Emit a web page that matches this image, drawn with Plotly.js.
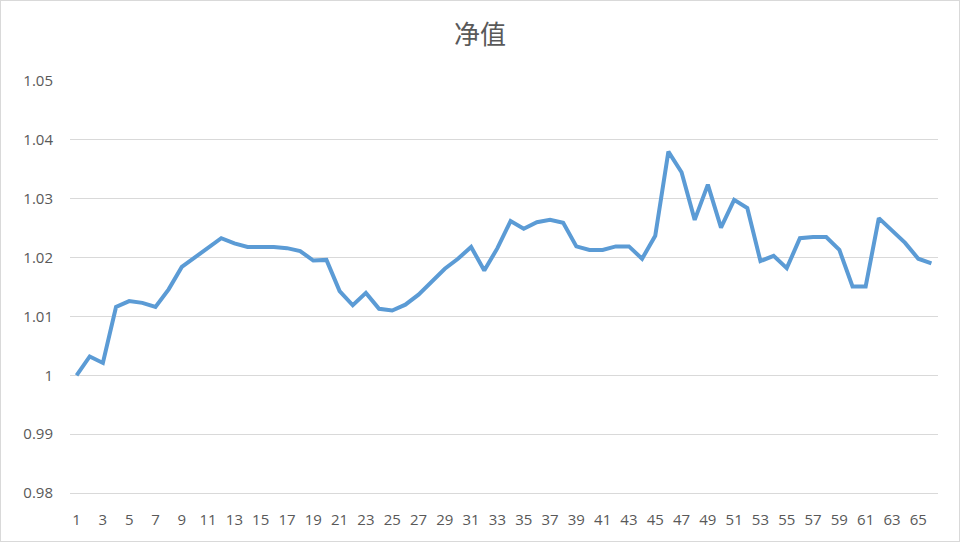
<!DOCTYPE html>
<html>
<head>
<meta charset="utf-8">
<script src="https://cdn.plot.ly/plotly-3.0.1.min.js"></script>
<style>
html,body{margin:0;padding:0;background:#fff;}
#wrap{position:relative;width:960px;height:542px;}
#chart{position:absolute;left:0;top:0;width:960px;height:542px;}
#frame{position:absolute;left:0;top:0;width:958px;height:540px;border:1px solid #d9d9d9;pointer-events:none;}
</style>
</head>
<body>
<div id="wrap"><div id="chart"></div><div id="frame"></div></div>
<script>
const categories = Array.from({length: 66}, (_, i) => String(i + 1));
const netValue = [
  1.0000, 1.0032, 1.0021, 1.0116, 1.0126, 1.0123, 1.0116, 1.0146, 1.0184, 1.0201,
  1.0217, 1.0233, 1.0224, 1.0218, 1.0218, 1.0218, 1.0216, 1.0211, 1.0195, 1.0196,
  1.0143, 1.0119, 1.0140, 1.0113, 1.0110, 1.0120, 1.0137, 1.0160, 1.0181, 1.0198,
  1.0218, 1.0178, 1.0216, 1.0262, 1.0249, 1.0260, 1.0264, 1.0259, 1.0219, 1.0213,
  1.0213, 1.0219, 1.0219, 1.0198, 1.0237, 1.0380, 1.0345, 1.0264, 1.0324, 1.0251,
  1.0298, 1.0284, 1.0194, 1.0203, 1.0182, 1.0233, 1.0235, 1.0235, 1.0213, 1.0151,
  1.0151, 1.0267, 1.0247, 1.0225, 1.0198, 1.0190
];
const yTickVals = [0.98, 0.99, 1.00, 1.01, 1.02, 1.03, 1.04, 1.05];
const yTickText = ['0.98', '0.99', '1', '1.01', '1.02', '1.03', '1.04', '1.05'];
const xTickVals = categories.filter((c, i) => i % 2 === 0);

const trace = {
  type: 'scatter',
  mode: 'lines',
  x: categories,
  y: netValue,
  line: {color: '#5b9bd5', width: 4},
  hoverinfo: 'x+y'
};

const layout = {
  width: 960,
  height: 542,
  margin: {l: 70, r: 22, t: 81, b: 49},
  paper_bgcolor: '#ffffff',
  plot_bgcolor: '#ffffff',
  showlegend: false,
  title: {
    text: '净值',
    font: {family: '"Noto Sans CJK SC", "Noto Sans", sans-serif', size: 26, color: '#595959'},
    x: 0.5, xanchor: 'center',
    y: 1 - 35/542, yanchor: 'middle', yref: 'container'
  },
  xaxis: {
    type: 'category',
    range: [-0.5, 65.5],
    tickvals: xTickVals,
    ticktext: xTickVals,
    showgrid: false,
    zeroline: false,
    showline: true,
    linecolor: '#d9d9d9',
    linewidth: 1,
    ticks: '',
    ticklabelstandoff: 13,
    tickfont: {family: '"Open Sans", "Liberation Sans", sans-serif', size: 15, color: '#595959'}
  },
  yaxis: {
    range: [0.98, 1.05],
    tickvals: yTickVals,
    ticktext: yTickText,
    showgrid: true,
    gridcolor: '#d9d9d9',
    gridwidth: 1,
    zeroline: false,
    showline: false,
    ticks: '',
    ticklabelstandoff: 16,
    tickfont: {family: '"Open Sans", "Liberation Sans", sans-serif', size: 15, color: '#595959'}
  }
};

Plotly.newPlot('chart', [trace], layout, {displayModeBar: false, staticPlot: true});
</script>
</body>
</html>
